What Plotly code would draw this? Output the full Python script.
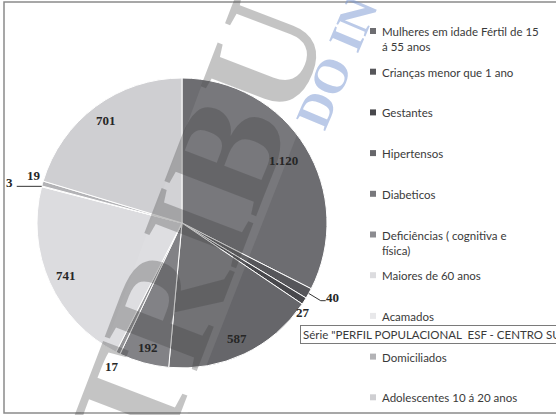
import math
import plotly.graph_objects as go

# ---------------- data ----------------
categories = [
    "Mulheres em idade Fértil de 15<br>á 55 anos",
    "Crianças menor que 1 ano",
    "Gestantes",
    "Hipertensos",
    "Diabeticos",
    "Deficiências ( cognitiva e<br>física)",
    "Maiores de 60 anos",
    "Acamados",
    "Domiciliados",
    "Adolescentes 10 á 20 anos",
]
values = [1120, 40, 27, 587, 192, 17, 741, 3, 19, 701]
series_name = 'Série "PERFIL POPULACIONAL  ESF - CENTRO SUL"'
watermark_main = "TRIBU"
watermark_second = "DO IN"

# ---------------- style ----------------
colors = ["#6d6d71", "#56565a", "#48484c", "#66666a", "#78787c",
          "#8c8c90", "#dcdcdf", "#e8e8ea", "#b3b3b6", "#cfcfd2"]
label_radius = [0.82, 1.16, 1.04, 0.88, 0.89, 1.10, 0.88, 1.22, 1.07, 0.88]
label_dangle = [0, -2.7, 4.0, 0, 0, 0, 0, -1.5, 2.2, 0]
leader = [False, True, False, False, False, False, False, True, False, False]

W, H = 556, 415
CX, CY, R = 182, 223, 145          # pie centre / radius in pixels


def px(x):
    return x / W


def py(y):
    return 1 - y / H


fig = go.Figure()
fig.add_trace(go.Pie(
    labels=categories, values=values, sort=False, direction="clockwise",
    rotation=0, textinfo="none", hoverinfo="label+value",
    marker=dict(colors=colors, line=dict(color="#ffffff", width=1)),
    domain=dict(x=[px(CX - R), px(CX + R)], y=[py(CY + R), py(CY - R)]),
    showlegend=False,
))

shapes = []
annotations = []

# chart frame
shapes.append(dict(type="rect", xref="paper", yref="paper",
                   x0=px(4), x1=px(W + 5), y0=py(413), y1=py(2),
                   line=dict(color="#8a8a8a", width=1.5)))

# watermark band + letters
band = f"M {px(80)},{py(415)} L {px(233)},{py(0)} L {px(350)},{py(0)} L {px(187)},{py(415)} Z"
shapes.append(dict(type="path", path=band, xref="paper", yref="paper",
                   fillcolor="rgba(255,255,255,0.08)", line=dict(width=0),
                   layer="above"))
annotations.append(dict(x=px(197), y=py(228), xref="paper", yref="paper",
                        xanchor="center", yanchor="middle",
                        text=f"<b>{watermark_main}</b>", showarrow=False, textangle=-69,
                        font=dict(family="Liberation Serif", size=150,
                                  color="rgba(60,60,60,0.3)")))
annotations.append(dict(x=px(337), y=py(62), xref="paper", yref="paper",
                        xanchor="center", yanchor="middle",
                        text=f"<b>{watermark_second}</b>", showarrow=False, textangle=-67,
                        font=dict(family="Liberation Serif", size=48,
                                  color="rgba(120,150,210,0.5)")))

# data labels
total = sum(values)
cum = 0
for i, v in enumerate(values):
    a0 = cum / total * 360
    cum += v
    a1 = cum / total * 360
    mid_deg = (a0 + a1) / 2
    mid = math.radians(mid_deg)
    lab = math.radians(mid_deg + label_dangle[i])
    rr = label_radius[i] * R
    lx = CX + rr * math.sin(lab)
    ly = CY - rr * math.cos(lab)
    txt = f"{v:,}".replace(",", ".")
    annotations.append(dict(x=px(lx), y=py(ly), xref="paper", yref="paper",
                            xanchor="center", yanchor="middle",
                            text=f"<b>{txt}</b>", showarrow=False,
                            font=dict(family="Liberation Serif", size=13,
                                      color="#262626")))
    if leader[i]:
        ex = CX + R * math.sin(mid)
        ey = CY - R * math.cos(mid)
        if lx > CX:
            path = (f"M {px(ex)},{py(ey)} L {px(lx - 12)},{py(ly + 3)} "
                    f"L {px(lx - 7)},{py(ly + 3)}")
        else:
            path = f"M {px(ex)},{py(ey)} L {px(lx + 7)},{py(ey)}"
        shapes.append(dict(type="path", path=path, xref="paper", yref="paper",
                           line=dict(color="#333333", width=1), layer="above"))

# legend (custom, to match spacing)
LEG_X, LEG_Y0, LEG_DY = 370, 31, 40.7
for i, name in enumerate(categories):
    yy = LEG_Y0 + i * LEG_DY
    shapes.append(dict(type="rect", xref="paper", yref="paper",
                       x0=px(LEG_X), x1=px(LEG_X + 6), y0=py(yy + 3), y1=py(yy - 3),
                       fillcolor=colors[i], line=dict(width=0)))
    annotations.append(dict(x=px(LEG_X + 10), y=py(yy - 8), xref="paper", yref="paper",
                            xanchor="left", yanchor="top", align="left",
                            text=name, showarrow=False,
                            font=dict(family="Lato", size=11.5, color="#3a3a3a")))

# tooltip box
annotations.append(dict(x=px(300), y=py(334.5), xref="paper", yref="paper",
                        xanchor="left", yanchor="middle", text=series_name,
                        showarrow=False, bgcolor="#ffffff", bordercolor="#7a7a7a",
                        borderwidth=1, borderpad=2,
                        font=dict(family="Lato", size=11.5, color="#3a3a3a")))

fig.update_layout(
    width=W, height=H, margin=dict(l=0, r=0, t=0, b=0),
    paper_bgcolor="#ffffff", plot_bgcolor="#ffffff",
    shapes=shapes, annotations=annotations, showlegend=False,
)
fig.write_html("out.html", config={"displayModeBar": False})

with open("out.html", encoding="utf-8") as f:
    html = f.read()
html = html.replace("<body>", '<body style="margin:0;overflow:hidden">', 1)
with open("out.html", "w", encoding="utf-8") as f:
    f.write(html)
